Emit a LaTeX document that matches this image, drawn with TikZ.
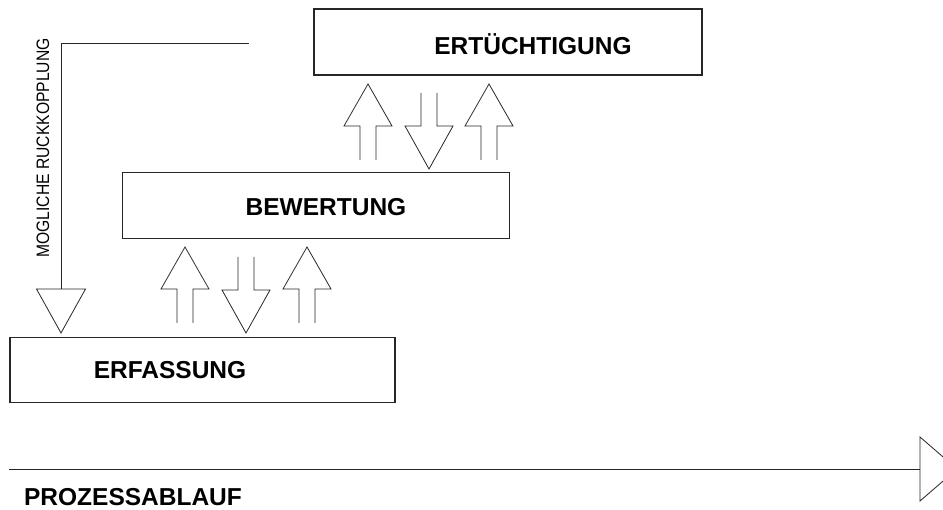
\documentclass[tikz,border=0pt]{standalone}
\usepackage{fontspec}
\setmainfont{Liberation Sans}
\usepackage{tikz}

\tikzset{
    stufe/.style={draw=black!85, line width=1.1pt, inner sep=0pt},
    titel/.style={font=\fontsize{24.5}{28}\selectfont\bfseries, inner sep=0pt},
    blockpfeil/.style={draw=black!85, line width=0.8pt, line join=miter},
}

% Blockpfeil nach oben, Ursprung unten in der Mitte des Schafts
\newcommand{\pfeilauf}[2]{
    \begin{scope}[shift={(#1,#2)}]
        \draw[blockpfeil] (-8,0) -- (-8,-34) -- (-24,-34) -- (0,-76) -- (24,-34) -- (8,-34) -- (8,0);
    \end{scope}
}
% Blockpfeil nach unten, Ursprung oben in der Mitte des Schafts
\newcommand{\pfeilab}[2]{
    \begin{scope}[shift={(#1,#2)}]
        \draw[blockpfeil] (-8,0) -- (-8,33) -- (-24,33) -- (0,76) -- (24,33) -- (8,33) -- (8,0);
    \end{scope}
}

\begin{document}
\begin{tikzpicture}[x=1pt, y=-1pt]
    \clip (0,0) rectangle (943,510);

    % Stufen
    \node[stufe, minimum width=388pt, minimum height=66pt] (ert) at (508,42) {};
    \node[titel] (ert-text) at (533,44) {ERTÜCHTIGUNG};

    \node[stufe, minimum width=387pt, minimum height=66pt] (bew) at (316,205.5) {};
    \node[titel] (bew-text) at (326,207) {BEWERTUNG};

    \node[stufe, minimum width=385pt, minimum height=65pt] (erf) at (202.5,370) {};
    \node[titel] (erf-text) at (170,370) {ERFASSUNG};

    % Pfeile zwischen Erfassung und Bewertung
    \pfeilauf{185}{323}
    \pfeilab{246}{257}
    \pfeilauf{307}{323}

    % Pfeile zwischen Bewertung und Ertuechtigung
    \pfeilauf{368}{160}
    \pfeilab{429}{93}
    \pfeilauf{489}{160}

    % moegliche Rueckkopplung
    \coordinate (rk-start) at (249,43);
    \coordinate (rk-ecke) at (61,43);
    \coordinate (rk-basis) at (61,289);
    \draw[blockpfeil] (rk-start) -- (rk-ecke) -- (rk-basis);
    \draw[blockpfeil] ([xshift=-24.5pt]rk-basis) -- ([xshift=24.5pt]rk-basis) -- ([yshift=-44pt]rk-basis) -- cycle;
    \node[rotate=90, inner sep=0pt, font=\fontsize{18}{18}\selectfont] (rk-text) at (43,148)
        {\scalebox{0.87}[1]{MOGLICHE RUCKKOPPLUNG}};

    % Prozessablauf
    \coordinate (pa-start) at (9,469);
    \coordinate (pa-basis) at (920,469);
    \draw[blockpfeil] (pa-start) -- (pa-basis);
    \draw[blockpfeil] ([yshift=32pt]pa-basis) -- ([yshift=-32pt]pa-basis) -- ([xshift=37pt]pa-basis) -- cycle;
    \node[titel] (pa-text) at (133,497) {PROZESSABLAUF};
\end{tikzpicture}
\end{document}
